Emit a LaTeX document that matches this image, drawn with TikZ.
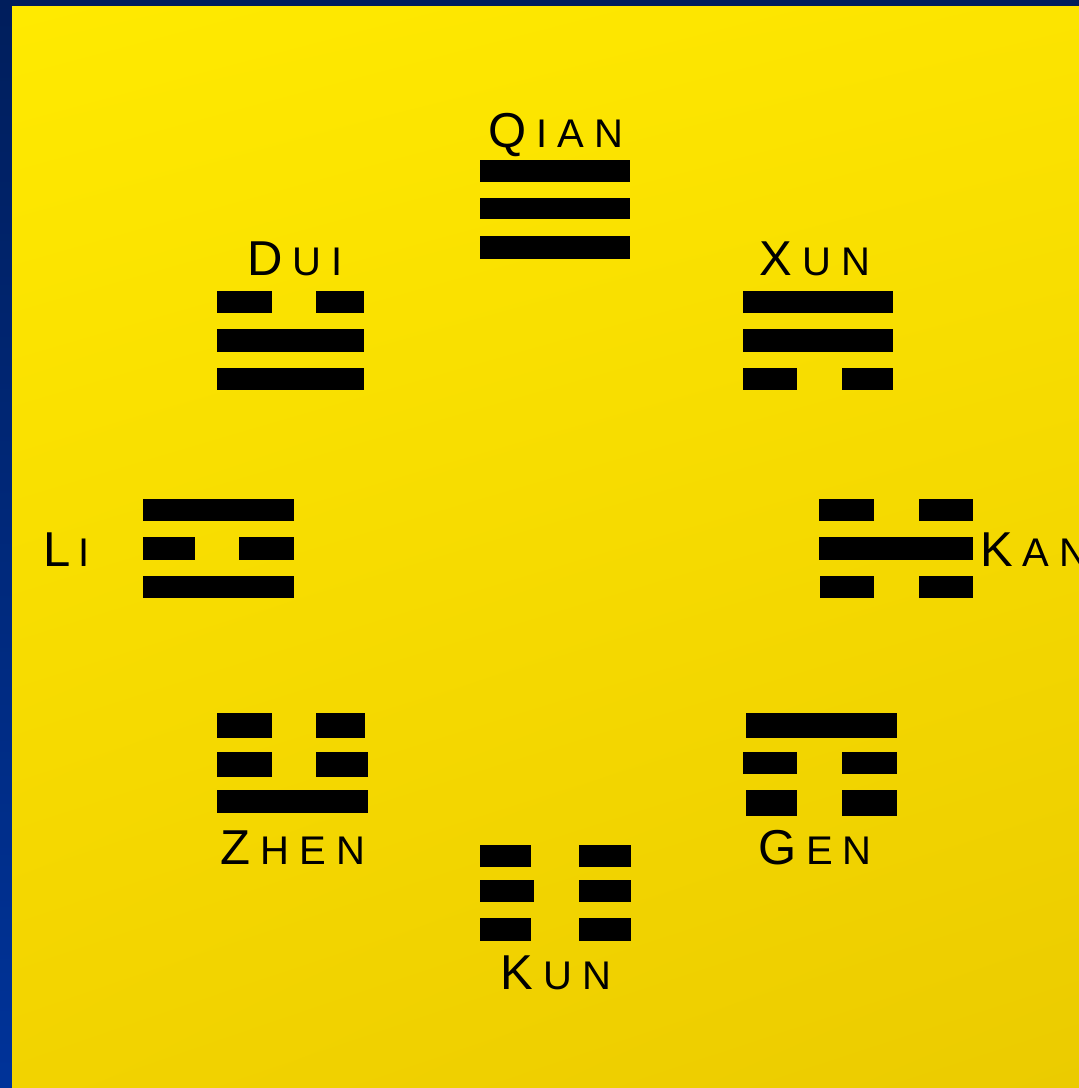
\documentclass[tikz,border=0pt]{standalone}
\usepackage{fontspec}
\usetikzlibrary{shadings}
\newfontfamily\labfont{Liberation Sans}
\newcommand\BigLt[1]{{\fontsize{49}{49}\selectfont #1}}
\newcommand\SmLt[1]{{\fontsize{40}{40}\selectfont #1}}
\newcommand\Gp{\kern 10pt}
\definecolor{ytl}{HTML}{FFEA00}
\definecolor{ytr}{HTML}{FCE400}
\definecolor{ybl}{HTML}{F2D300}
\definecolor{ybr}{HTML}{EBCB00}
\definecolor{navytop}{HTML}{001E5C}
\definecolor{navybot}{HTML}{003399}
\tikzset{
  barfill/.style={fill=black},
  lab/.style={inner sep=0pt, font=\labfont, text=black, anchor=base}
}
\begin{document}
\begin{tikzpicture}[x=1pt,y=-1pt]
\useasboundingbox (0,0) rectangle (1079,1088);
\begin{scope}
\clip (0,0) rectangle (1079,1088);
% frame
\shade[top color=navytop, bottom color=navybot] (0,0) rectangle (12,1088);
\fill[navytop] (0,0) rectangle (1079,6);
\shade[upper left=ytl, upper right=ytr, lower left=ybl, lower right=ybr] (12,6) rectangle (1079,1088);

% QIAN
\fill[barfill] (480,160) rectangle (630,182);
\fill[barfill] (480,198) rectangle (630,219);
\fill[barfill] (480,236) rectangle (630,259);
\node[lab] (qian) at (556,147) {\BigLt{Q}\Gp\SmLt{I}\Gp\SmLt{A}\Gp\SmLt{N}};

% DUI
\fill[barfill] (217,291) rectangle (272,313);
\fill[barfill] (316,291) rectangle (364,313);
\fill[barfill] (217,329) rectangle (364,352);
\fill[barfill] (217,368) rectangle (364,390);
\node[lab] (dui) at (295,275) {\BigLt{D}\Gp\SmLt{U}\Gp\SmLt{I}};

% XUN
\fill[barfill] (743,291) rectangle (893,313);
\fill[barfill] (743,329) rectangle (893,352);
\fill[barfill] (743,368) rectangle (797,390);
\fill[barfill] (842,368) rectangle (893,390);
\node[lab] (xun) at (815,275) {\BigLt{X}\Gp\SmLt{U}\Gp\SmLt{N}};

% LI
\fill[barfill] (143,499) rectangle (294,521);
\fill[barfill] (143,537) rectangle (195,560);
\fill[barfill] (239,537) rectangle (294,560);
\fill[barfill] (143,576) rectangle (294,598);
\node[lab, anchor=base west] (li) at (43,566) {\BigLt{L}\kern 8pt\SmLt{I}};

% KAN
\fill[barfill] (819,499) rectangle (874,521);
\fill[barfill] (919,499) rectangle (973,521);
\fill[barfill] (819,537) rectangle (973,560);
\fill[barfill] (820,576) rectangle (874,598);
\fill[barfill] (919,576) rectangle (973,598);
\node[lab, anchor=base west] (kan) at (980,566) {\BigLt{K}\Gp\SmLt{A}\Gp\SmLt{N}};

% ZHEN
\fill[barfill] (217,713) rectangle (272,738);
\fill[barfill] (316,713) rectangle (365,738);
\fill[barfill] (217,752) rectangle (272,777);
\fill[barfill] (316,752) rectangle (368,777);
\fill[barfill] (217,790) rectangle (368,813);
\node[lab] (zhen) at (293,864) {\BigLt{Z}\Gp\SmLt{H}\Gp\SmLt{E}\Gp\SmLt{N}};

% GEN
\fill[barfill] (746,713) rectangle (897,738);
\fill[barfill] (743,752) rectangle (797,774);
\fill[barfill] (842,752) rectangle (897,774);
\fill[barfill] (746,790) rectangle (797,816);
\fill[barfill] (842,790) rectangle (897,816);
\node[lab] (gen) at (815,864) {\BigLt{G}\Gp\SmLt{E}\Gp\SmLt{N}};

% KUN
\fill[barfill] (480,845) rectangle (531,867);
\fill[barfill] (579,845) rectangle (631,867);
\fill[barfill] (480,880) rectangle (534,902);
\fill[barfill] (579,880) rectangle (631,902);
\fill[barfill] (480,918) rectangle (531,941);
\fill[barfill] (579,918) rectangle (631,941);
\node[lab] (kun) at (556,989) {\BigLt{K}\Gp\SmLt{U}\Gp\SmLt{N}};
\end{scope}
\end{tikzpicture}
\end{document}
